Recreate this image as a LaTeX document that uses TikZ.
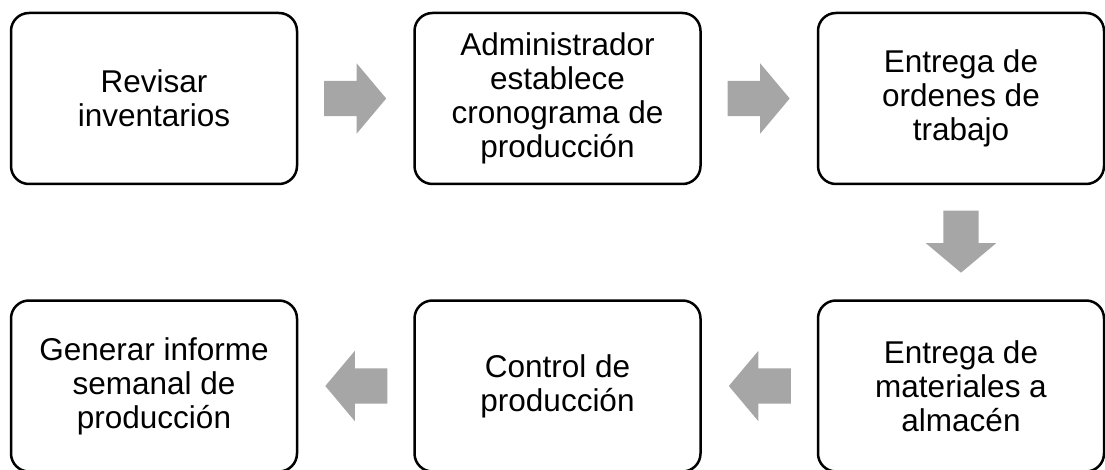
\documentclass[tikz,border=0pt]{standalone}
\usepackage{fontspec}
\setmainfont{Liberation Sans}
\usepackage{tikz}
\usetikzlibrary{shapes,positioning,calc}
\definecolor{flowgray}{RGB}{166,166,166}
\tikzstyle{process} = [rectangle, rounded corners=18pt, minimum width=286pt, minimum height=171pt, align=center, draw=black, line width=2.5pt, font=\fontsize{31.5}{34}\selectfont]
\tikzstyle{blockarrow} = [single arrow, draw=none, fill=flowgray, minimum height=62pt, minimum width=70pt, single arrow head extend=17.5pt, single arrow tip angle=100, inner sep=17.5pt]

\begin{document}
\begin{tikzpicture}[node distance=115pt]
\useasboundingbox (0,0) rectangle (1105pt,-470pt);
% Steps
\node[process] (s1) at (154pt,-98.5pt) {Revisar\\inventarios};
\node[process, right=of s1] (s2) {Administrador\\establece\\cronograma de\\producción};
\node[process, right=of s2] (s3) {Entrega de\\ordenes de\\trabajo};
\node[process, below=114pt of s3] (s4) {Entrega de\\materiales a\\almacén};
\node[process, left=of s4] (s5) {Control de\\producción};
\node[process, left=of s5] (s6) {Generar informe\\semanal de\\producción};

% Arrows
\node[blockarrow, xshift=-8pt] (a1) at ($(s1.east)!0.5!(s2.west)$) {};
\node[blockarrow, xshift=-8pt] (a2) at ($(s2.east)!0.5!(s3.west)$) {};
\node[blockarrow, shape border rotate=270, yshift=8pt] (a3) at ($(s3.south)!0.5!(s4.north)$) {};
\node[blockarrow, shape border rotate=180, xshift=8pt] (a4) at ($(s4.west)!0.5!(s5.east)$) {};
\node[blockarrow, shape border rotate=180, xshift=8pt] (a5) at ($(s5.west)!0.5!(s6.east)$) {};
\end{tikzpicture}
\end{document}
